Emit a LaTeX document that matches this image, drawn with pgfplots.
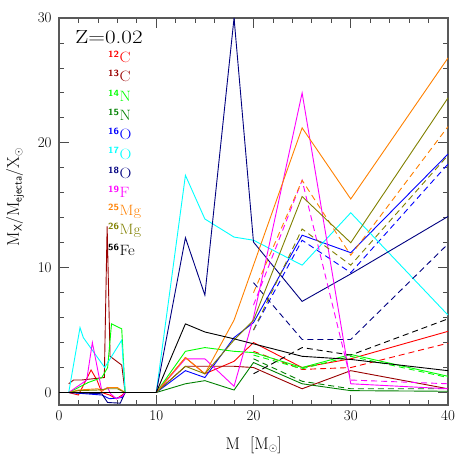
\documentclass[border=0pt]{standalone}
\usepackage{fontspec}
\usepackage{pgfplots}
\pgfplotsset{compat=1.18}
\definecolor{cCa}{rgb}{1,0,0}
\definecolor{cCb}{rgb}{0.6,0,0}
\definecolor{cNa}{rgb}{0,1,0}
\definecolor{cNb}{rgb}{0,0.5,0}
\definecolor{cOa}{rgb}{0,0,1}
\definecolor{cOb}{rgb}{0,1,1}
\definecolor{cOc}{rgb}{0,0,0.5}
\definecolor{cF}{rgb}{1,0,1}
\definecolor{cMga}{rgb}{1,0.5,0}
\definecolor{cMgb}{rgb}{0.5,0.5,0}
\newcommand{\iso}[2]{\scalebox{1.1}[1]{\textsuperscript{\sffamily\bfseries\fontsize{9}{9}\selectfont #1}#2}}
\newcommand{\sub}[1]{\raisebox{-0.35ex}{\sffamily\fontsize{11}{11}\selectfont #1}}
\begin{document}
\begin{tikzpicture}
\path[use as bounding box] (-59bp,-58bp) rectangle (404bp,405bp);
\begin{axis}[
  at={(0,0)}, anchor=south west,
  scale only axis, width=389bp, height=387bp,
  xmin=0, xmax=40, ymin=-1, ymax=30,
  xtick={0,10,20,30,40}, ytick={0,10,20,30},
  minor x tick num=4, minor y tick num=4,
  tick align=inside,
  major tick length=10bp, minor tick length=5bp,
  axis line style={black!65, line width=1.2bp},
  every tick/.style={black!70, line width=0.8bp},
  /pgf/number format/assume math mode=true,
  tick label style={font=\fontsize{15}{18}\selectfont},
  yticklabel style={xshift=-4bp},
  xticklabel style={yshift=-2bp},
  xlabel={M\ \ [M\sub{$\odot$}]},
  ylabel={M\sub{X}/M\sub{ejecta}/X\sub{$\odot$}},
  label style={font=\fontsize{17}{20}\selectfont},
  xlabel style={at={(axis description cs:0.5,-0.103)}, anchor=center},
  ylabel style={at={(axis description cs:-0.113,0.537)}, anchor=center, rotate=0},
  every axis plot/.append style={line width=0.9bp, line join=miter},
  clip=true,
]
% 12C
\addplot[cCa] coordinates {(1,0) (2,-0.2) (3.3,1.8) (3.9,1.0) (4.4,0) (5.2,-0.2) (5.9,-0.5) (6.5,-0.2) (6.8,0) (10,0) (13,2.8) (15,1.5) (18,2.5) (20,4.0) (25,2.0) (30,2.7) (40,4.9)};
\addplot[cCa, dash pattern=on 6bp off 4bp] coordinates {(20,3.3) (25,1.85) (30,2.0) (40,3.95)};
% 13C
\addplot[cCb] coordinates {(1,0.7) (1.5,1.0) (2.3,1.0) (4.66,1.2) (4.95,13.3) (5.25,2.9) (6.45,2.2) (6.8,0) (10,0) (13,2.1) (15,2.1) (18,2.1) (20,2.0) (25,0.3) (30,1.75) (40,0.3)};
% 14N
\addplot[cNa] coordinates {(1,0) (3,0.8) (4.4,1.2) (5,2.0) (5.4,5.5) (6.45,5.1) (6.8,0) (10,0) (13,3.3) (15,3.6) (18,3.3) (20,3.2) (25,2.0) (30,3.05) (40,1.3)};
\addplot[cNa, dash pattern=on 6bp off 4bp] coordinates {(20,3.0) (25,1.9) (30,2.9) (40,1.2)};
% 15N
\addplot[cNb] coordinates {(1,0) (6.8,0) (10,0) (13,0.7) (15,0.95) (18,0.2) (20,2.4) (25,0.7) (30,0.15) (40,0.1)};
\addplot[cNb, dash pattern=on 6bp off 4bp] coordinates {(20,2.7) (25,0.9) (30,0.3) (40,0.3)};
% 16O
\addplot[cOa] coordinates {(1,0) (4.4,-0.2) (5.2,-0.5) (6.5,-0.4) (6.8,0) (10,0) (13,1.75) (15,1.2) (18,4.4) (20,5.6) (25,12.6) (30,11.2) (40,19.1)};
\addplot[cOa, dash pattern=on 6bp off 4bp] coordinates {(20,5.0) (25,12.2) (30,9.6) (40,18.3)};
% 17O
\addplot[cOb] coordinates {(1,0) (2.16,5.2) (2.5,4.4) (4.7,2.0) (6.45,4.2) (6.8,0) (10,0) (13,17.4) (15,13.9) (18,12.45) (20,12.2) (25,10.2) (30,14.4) (40,6.2)};
% 18O
\addplot[cOc] coordinates {(1,0) (4.4,-0.1) (5.0,-0.8) (6.3,-0.85) (6.8,0) (10,0) (13,12.4) (15,7.8) (18,30) (20,12.05) (25,7.3) (30,9.5) (40,14.1)};
\addplot[cOc, dash pattern=on 6bp off 4bp] coordinates {(20,8.8) (25,4.25) (30,4.25) (40,11.9)};
% 19F
\addplot[cF] coordinates {(1,0) (2.85,1.0) (3.43,4.0) (4.4,0.15) (5.0,0.4) (5.3,-0.1) (5.9,-0.5) (6.5,-0.3) (6.8,0) (10,0) (13,2.7) (15,2.7) (18,0.5) (20,6.0) (25,24.0) (30,0.7) (40,0.3)};
\addplot[cF, dash pattern=on 6bp off 4bp] coordinates {(20,7.0) (25,17.0) (30,1.0) (40,0.7)};
% 25Mg
\addplot[cMga] coordinates {(1,0) (2,0.2) (4,0.3) (4.4,0.1) (5,0.4) (6,0.4) (6.8,0) (10,0) (13,2.8) (15,1.5) (18,5.8) (20,10.2) (25,21.2) (30,15.5) (40,26.8)};
\addplot[cMga, dash pattern=on 6bp off 4bp] coordinates {(20,8.0) (25,17.0) (30,11.0) (40,21.3)};
% 26Mg
\addplot[cMgb] coordinates {(1,0) (2,0.15) (4,0.2) (5,0.3) (6,0.3) (6.8,0) (10,0) (13,2.1) (15,1.5) (18,4.2) (20,5.8) (25,15.7) (30,12.0) (40,23.6)};
\addplot[cMgb, dash pattern=on 6bp off 4bp] coordinates {(20,5.0) (25,13.1) (30,10.2) (40,19.0)};
% 56Fe
\addplot[black] coordinates {(0,0) (10,0) (13,5.5) (15,4.85) (18,4.3) (20,3.9) (25,2.9) (30,2.65) (40,1.75)};
\addplot[black, dash pattern=on 6bp off 4bp] coordinates {(20,1.5) (25,3.6) (30,3.0) (40,5.9)};
\end{axis}
\node[font=\fontsize{19}{22}\selectfont, inner sep=0pt] at (50bp,368bp) {\scalebox{1.22}[1]{Z=0.02}};
\begin{scope}[every node/.style={anchor=west, inner sep=0pt, font=\fontsize{15}{18}\selectfont}]
\node[text=cCa]  at (49bp,348bp) {\iso{12}{C}};
\node[text=cCb]  at (49bp,328.7bp) {\iso{13}{C}};
\node[text=cNa]  at (49bp,309.4bp) {\iso{14}{N}};
\node[text=cNb]  at (49bp,290.1bp) {\iso{15}{N}};
\node[text=cOa]  at (49bp,270.8bp) {\iso{16}{O}};
\node[text=cOb]  at (49bp,251.5bp) {\iso{17}{O}};
\node[text=cOc]  at (49bp,232.2bp) {\iso{18}{O}};
\node[text=cF]   at (49bp,212.9bp) {\iso{19}{F}};
\node[text=cMga] at (49bp,193.6bp) {\iso{25}{Mg}};
\node[text=cMgb] at (49bp,174.3bp) {\iso{26}{Mg}};
\node[text=black] at (49bp,155bp) {\iso{56}{Fe}};
\end{scope}
\end{tikzpicture}
\end{document}
